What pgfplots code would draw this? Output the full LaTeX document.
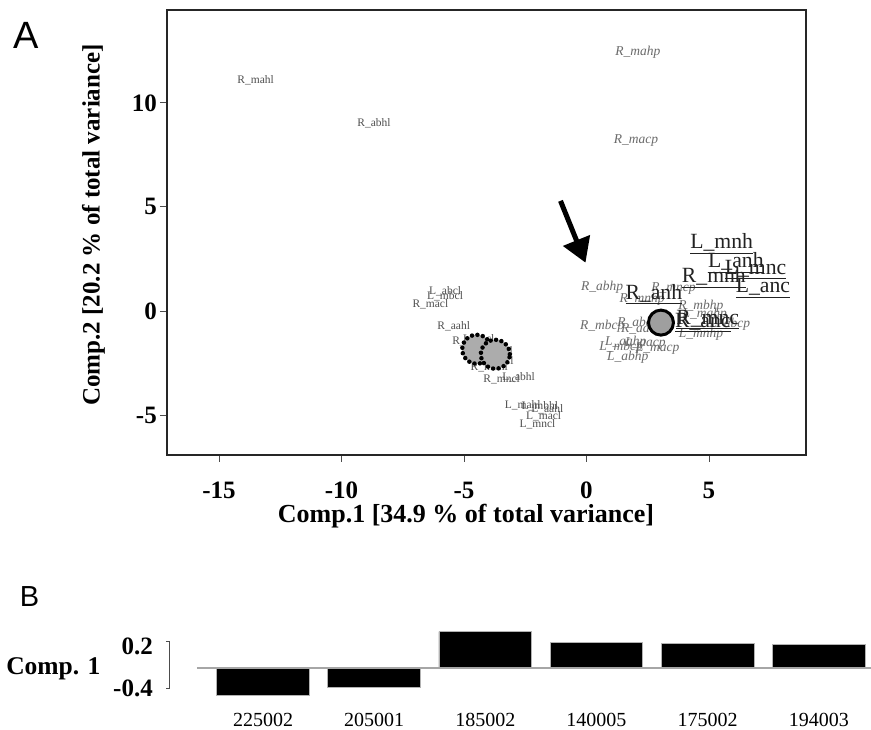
\documentclass[border=0pt]{standalone}
\usepackage{fontspec}
\setmainfont{Liberation Serif}
\newfontfamily\arialf{Liberation Sans}
\usepackage{pgfplots}
\pgfplotsset{compat=1.18}
\usetikzlibrary{arrows.meta}
\definecolor{lblgray}{HTML}{4F4F4F}
\definecolor{itgray}{HTML}{6A6A6A}
\definecolor{biggray}{HTML}{222222}
\newcommand{\fs}[1]{\fontsize{#1}{#1}\selectfont}
\begin{document}
\begin{tikzpicture}
\path[use as bounding box] (0,0) rectangle (871pt,730pt);
\begin{axis}[
  at={(167pt,275pt)}, anchor=south west,
  scale only axis, width=639pt, height=445pt,
  xmin=-17.12, xmax=8.96, ymin=-6.92, ymax=14.46,
  xtick={-15,-10,-5,0,5}, ytick={-5,0,5,10},
  xtick pos=bottom, ytick pos=left,
  tick align=outside, major tick length=7pt,
  axis line style={line width=1.4pt, black!85},
  tick style={line width=0.8pt, black!70},
  /pgf/number format/assume math mode=true,
  ticklabel style={font=\bfseries\fs{25}},
  xticklabel style={anchor=center, yshift=-28pt},
  yticklabel style={anchor=east, inner sep=0pt, xshift=-3pt},
  xlabel={Comp.1 [34.9 \% of total variance]},
  ylabel={Comp.2 [20.2 \% of total variance]},
  every axis x label/.style={at={(axis description cs:0.468,-0.137)}, anchor=center, font=\bfseries\fs{26}},
  every axis y label/.style={at={(axis description cs:-0.115,0.517)}, anchor=center, rotate=90, font=\bfseries\fs{25}},
  clip=false,
]
% small upright labels
\addplot[only marks, mark=*, mark size=0pt, mark options={draw=none,fill=none},
  nodes near coords, point meta=explicit symbolic,
  nodes near coords style={anchor=center, inner sep=0pt, font=\fs{11.5}, text=lblgray}]
  table[meta=lab] {
x y lab
-13.5 11.1 R\_mahl
-8.67 9.02 R\_abhl
-5.77 0.93 L\_abcl
-5.77 0.72 L\_mbcl
-6.37 0.32 R\_macl
-5.42 -0.72 R\_aahl
-4.81 -1.47 R\_abcl
-4.40 -1.36 L\_aacl
-4.20 -1.75 R\_mbcl
-3.72 -1.92 L\_amcl
-3.63 -2.44 R\_aacl
-3.97 -2.72 R\_mbhl
-3.46 -3.29 R\_mncl
-2.77 -3.17 L\_abhl
-2.60 -4.52 L\_mahl
-1.90 -4.60 L\_mbhl
-1.60 -4.70 L\_aahl
-1.75 -5.05 L\_macl
-2.00 -5.45 L\_mncl
};
% small italic labels
\addplot[only marks, mark=*, mark size=0pt, mark options={draw=none,fill=none},
  nodes near coords, point meta=explicit symbolic,
  nodes near coords style={anchor=center, inner sep=0pt, font=\itshape\fs{13.5}, text=itgray}]
  table[meta=lab] {
x y lab
2.10 12.45 R\_mahp
2.02 8.20 R\_macp
0.64 1.12 R\_abhp
0.64 -0.72 R\_mbcp
3.55 1.09 R\_mncp
2.27 0.56 R\_mnhp
4.67 0.24 R\_mbhp
4.83 -0.16 L\_mahp
2.10 -0.61 R\_abcp
2.27 -0.88 R\_aahp
5.85 -0.64 L\_abcp
4.67 -1.12 L\_mnhp
1.60 -1.50 L\_aahp
1.41 -1.76 L\_mbcp
2.40 -1.55 L\_aacp
2.90 -1.80 L\_macp
1.68 -2.24 L\_abhp
};
% dotted cluster
\addplot[only marks, mark=*, mark size=14.5pt,
  mark options={fill=gray!65, draw=black, line width=4.5pt, dash pattern=on 0pt off 5.5pt, line cap=round}]
  coordinates {(-4.48,-1.84) (-3.72,-2.08)};
% big circle
\addplot[only marks, mark=*, mark size=12.5pt,
  mark options={fill=gray!75, draw=black, line width=3pt}]
  coordinates {(3.04,-0.56)};
% arrow
\addplot[black, line width=5pt, -{Triangle[length=24pt, width=28pt]}]
  coordinates {(-1.06,5.29) (-0.04,2.32)};
% large underlined labels
\addplot[only marks, mark=*, mark size=0pt, mark options={draw=none,fill=none},
  nodes near coords={\underline{\pgfplotspointmeta}}, point meta=explicit symbolic,
  nodes near coords style={anchor=center, inner sep=0pt, font=\fs{21.7}, text=biggray}]
  table[meta=lab] {
x y lab
5.52 3.24 L\_mnh
6.10 2.32 L\_anh
6.90 2.00 L\_mnc
5.20 1.60 R\_mnh
7.20 1.09 L\_anc
2.75 0.80 R\_anh
4.75 -0.56 R\_anc
4.95 -0.42 R\_mnc
};
\end{axis}

\begin{axis}[
  at={(197pt,26.7pt)}, anchor=south west,
  scale only axis, width=674pt, height=77.7pt,
  xmin=-0.594, xmax=5.47, ymin=-0.45, ymax=0.55,
  axis line style={draw=none}, major tick length=0pt,
  xtick={0,1,2,3,4,5},
  xticklabels={225002,205001,185002,140005,175002,194003},
  xticklabel style={font=\fs{20}, anchor=center, yshift=-16.7pt},
  ytick={-0.257,0.278}, yticklabels={-0.4,0.2},
  yticklabel style={font=\bfseries\fs{25}, anchor=east, inner sep=0pt, xshift=-44pt},
  ylabel={Comp. 1},
  every axis y label/.style={at={(axis description cs:0,0.45)}, anchor=east, xshift=-93pt, font=\bfseries\fs{25.5}},
  ybar, bar width=92.8pt, clip=false,
]
\addplot[fill=black, draw=gray!60, line width=0.8pt]
  coordinates {(0,-0.353) (1,-0.250) (2,0.471) (3,0.329) (4,0.322) (5,0.309)};
\draw[gray!70, line width=2pt] (axis cs:-0.594,0) -- (axis cs:5.47,0);
\draw[black!70, line width=0.8pt]
  ([xshift=-31pt]axis cs:-0.594,0.342) -- ([xshift=-27.6pt]axis cs:-0.594,0.342)
  -- ([xshift=-27.6pt]axis cs:-0.594,-0.257) -- ([xshift=-31pt]axis cs:-0.594,-0.257);
\end{axis}
\node[font=\arialf\fs{38}] at (26.5pt,694.5pt) {A};
\node[font=\arialf\fs{29}] at (29.5pt,133pt) {B};
\end{tikzpicture}
\end{document}
